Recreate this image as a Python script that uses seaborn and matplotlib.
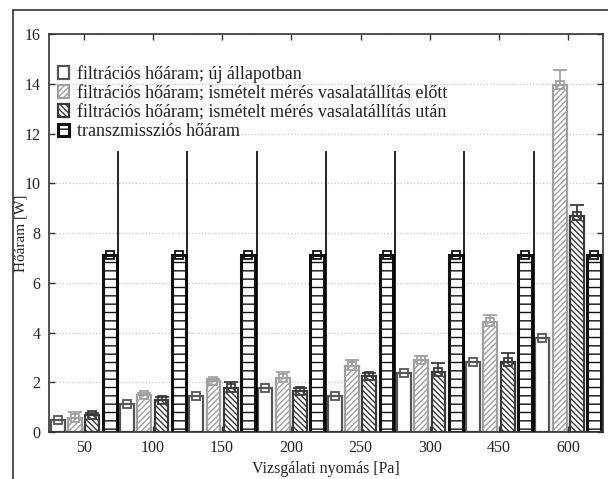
import numpy as np
import pandas as pd
import matplotlib
matplotlib.use("Agg")
import matplotlib.pyplot as plt
from matplotlib.lines import Line2D
import seaborn as sns

nyomas = ["50", "100", "150", "200", "250", "300", "450", "600"]
sorozatok = [
    "filtrációs hőáram; új állapotban",
    "filtrációs hőáram; ismételt mérés vasalatállítás előtt",
    "filtrációs hőáram; ismételt mérés vasalatállítás után",
    "transzmissziós hőáram",
]
uj = [0.48, 1.13, 1.45, 1.76, 1.45, 2.39, 2.83, 3.80]
elott = [0.58, 1.49, 2.05, 2.16, 2.66, 2.90, 4.42, 13.97]
utan = [0.69, 1.29, 1.76, 1.65, 2.27, 2.43, 2.83, 8.67]
transz = [7.11] * 8
hiba_uj = [0.0, 0.0, 0.0, 0.0, 0.0, 0.0, 0.0, 0.0]
hiba_elott = [0.21, 0.09, 0.07, 0.27, 0.24, 0.16, 0.27, 0.58]
hiba_utan = [0.08, 0.13, 0.24, 0.14, 0.10, 0.34, 0.34, 0.45]
hiba_transz = [0.0] * 8

df = pd.DataFrame({
    "nyomas": nyomas * 4,
    "sorozat": np.repeat(sorozatok, 8),
    "hoaram": uj + elott + utan + transz,
})

sns.set_style("white")
plt.rcParams["font.family"] = ["Liberation Serif", "DejaVu Serif"]
plt.rcParams["hatch.linewidth"] = 1.0

fig = plt.figure(figsize=(6.08, 4.79), dpi=100)
ax = fig.add_axes([0.0806, 0.098, 0.911, 0.831])

sns.barplot(data=df, x="nyomas", y="hoaram", hue="sorozat", order=nyomas,
            hue_order=sorozatok, width=1.0, gap=0.2, ax=ax, errorbar=None)

stilus = [
    dict(edge="#555555", hatch="", lw=1.6),
    dict(edge="#a0a0a0", hatch="//////", lw=1.6),
    dict(edge="#3a3a3a", hatch="\\\\\\\\\\\\", lw=1.6),
    dict(edge="#111111", hatch="--", lw=2.2),
]
hibak = [hiba_uj, hiba_elott, hiba_utan, hiba_transz]
for cont, st, err in zip(ax.containers, stilus, hibak):
    xs, ys = [], []
    for p in cont.patches:
        p.set_facecolor("white")
        p.set_edgecolor(st["edge"])
        p.set_hatch(st["hatch"])
        p.set_linewidth(st["lw"])
        xs.append(p.get_x() + p.get_width() / 2)
        ys.append(p.get_height())
    e = np.array(err)
    ax.errorbar(xs, ys, yerr=[np.zeros_like(e), e], fmt="none",
                ecolor=st["edge"], elinewidth=1.3, capsize=5, capthick=1.3, zorder=4)
    ax.plot(xs, ys, ls="none", marker="s", ms=5.5, mfc="none",
            mec=st["edge"], mew=1.3, zorder=5)

# separators between the pressure groups
ax.vlines(np.arange(0.5, 7.5, 1.0), 0, 11.3, colors="black", lw=1.2, zorder=3)

ax.set_xlim(-0.5, 7.5)
ax.set_ylim(0, 16)
ax.set_yticks(range(0, 17, 2))
ax.yaxis.grid(True, color="#c8c8c8", ls=":", lw=0.9)
ax.set_axisbelow(True)
for s in ax.spines.values():
    s.set_visible(True)
    s.set_color("#333333")
    s.set_linewidth(1.2)
ax.tick_params(axis="both", direction="in", length=4, width=1, colors="#333333",
               labelsize=11.5, top=True, right=True, bottom=True, left=True, pad=6)
ax.tick_params(axis="both", labelcolor="#222222")
ax.set_xlabel("Vizsgálati nyomás [Pa]", fontsize=11.5, color="#222222", labelpad=3)
ax.set_ylabel("Hőáram [W]", fontsize=11, color="#222222")
ax.yaxis.set_label_coords(-0.038, 0.5)

ax.legend(handles=list(ax.containers), labels=sorozatok, loc="upper left",
          bbox_to_anchor=(0.0, 0.945), frameon=False, fontsize=13,
          handlelength=0.6, handleheight=0.7, handletextpad=0.45,
          labelspacing=0.12, borderaxespad=0.2, borderpad=0.3,
          labelcolor="#222222")

fig.add_artist(Line2D([13 / 608, 13 / 608], [0, 1 - 10 / 479], color="#333333", lw=1.2))
fig.add_artist(Line2D([13 / 608, 1], [1 - 10 / 479, 1 - 10 / 479], color="#333333", lw=1.2))

fig.savefig("out.png", dpi=100, facecolor="white")
